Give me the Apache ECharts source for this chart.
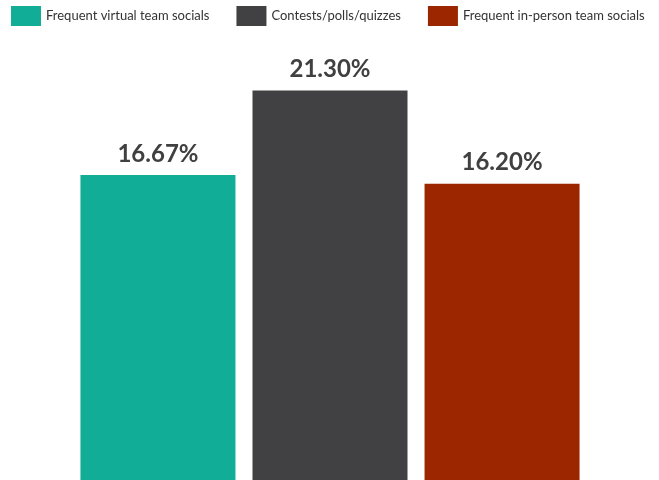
<!DOCTYPE html>
<html>
<head>
<meta charset="utf-8">
<script src="https://cdn.jsdelivr.net/npm/echarts@6/dist/echarts.min.js"></script>
<style>html,body{margin:0;padding:0;background:#fff}#c{width:659px;height:480px}</style>
</head>
<body>
<div id="c"></div>
<script>
var categories = [''];
var seriesNames = ['Frequent virtual team socials', 'Contests/polls/quizzes', 'Frequent in-person team socials'];
var seriesValues = [16.67, 21.30, 16.20];
var seriesColors = ['#11ad97', '#414042', '#9c2600'];

var chart = echarts.init(document.getElementById('c'));
var series = seriesNames.map(function (n, i) {
  return {
    name: n,
    type: 'bar',
    data: [seriesValues[i]],
    barWidth: 155,
    barGap: '11%',
    itemStyle: { color: seriesColors[i] },
    label: {
      show: true,
      position: 'top',
      distance: 9,
      formatter: function (p) { return p.value.toFixed(2) + '%'; },
      fontFamily: 'Lato',
      fontWeight: 'bold',
      fontSize: 24,
      color: '#404040'
    }
  };
});
chart.setOption({
  animation: false,
  legend: {
    left: 11, top: 6, padding: 0,
    itemWidth: 30, itemHeight: 20, itemGap: 27,
    icon: 'rect',
    textStyle: { fontFamily: 'Lato', fontSize: 13, color: '#333' },
    data: seriesNames
  },
  grid: { left: 1, right: 0, top: 41, bottom: 0, containLabel: false },
  xAxis: { type: 'category', data: categories, show: false },
  yAxis: { type: 'value', min: 0, max: 24, show: false },
  series: series
});
</script>
</body>
</html>
